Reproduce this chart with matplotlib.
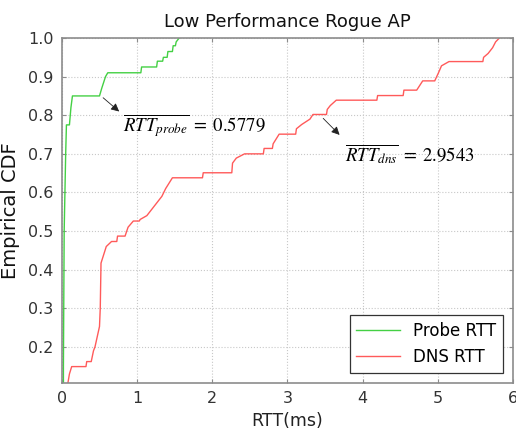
import matplotlib
matplotlib.use('Agg')
import matplotlib.pyplot as plt

# Probe RTT empirical CDF, knots
probe_x = [0.02, 0.02, 0.03, 0.05, 0.06, 0.10, 0.12, 0.14, 0.50, 0.53, 0.58, 0.61,
           1.05, 1.06, 1.26, 1.27, 1.34, 1.35, 1.40, 1.41, 1.47, 1.48, 1.51, 1.52, 1.56]
probe_y = [0.107, 0.15, 0.50, 0.70, 0.775, 0.775, 0.82, 0.85, 0.85, 0.87, 0.90, 0.91,
           0.91, 0.925, 0.925, 0.94, 0.94, 0.95, 0.95, 0.965, 0.965, 0.98, 0.98, 0.99, 1.0]

# DNS RTT empirical CDF
dns_x = [0.08, 0.10, 0.13, 0.32, 0.33, 0.39, 0.42, 0.44, 0.50, 0.51, 0.52, 0.59, 0.66,
         0.73, 0.74, 0.84, 0.88, 0.95, 1.03, 1.04, 1.13, 1.19, 1.25, 1.33, 1.38, 1.47,
         1.87, 1.88, 2.26, 2.27, 2.32, 2.43, 2.68, 2.69, 2.80, 2.81, 2.89, 3.11, 3.12,
         3.19, 3.30, 3.34, 3.52, 3.53, 3.57, 3.65, 4.19, 4.20, 4.54, 4.55, 4.72, 4.80,
         4.96, 5.01, 5.05, 5.15, 5.60, 5.61, 5.67, 5.73, 5.77, 5.82]
dns_y = [0.107, 0.13, 0.149, 0.149, 0.162, 0.162, 0.19, 0.20, 0.253, 0.30, 0.417, 0.46, 0.473,
         0.473, 0.487, 0.487, 0.51, 0.526, 0.526, 0.53, 0.54, 0.555, 0.57, 0.59, 0.61, 0.638,
         0.638, 0.651, 0.651, 0.676, 0.689, 0.70, 0.70, 0.714, 0.714, 0.726, 0.751, 0.751, 0.765,
         0.776, 0.79, 0.802, 0.802, 0.815, 0.825, 0.839, 0.839, 0.851, 0.851, 0.865, 0.865, 0.889,
         0.889, 0.91, 0.928, 0.939, 0.939, 0.95, 0.96, 0.975, 0.99, 1.0]

x_ticks = [0, 1, 2, 3, 4, 5, 6]
y_ticks = [0.2, 0.3, 0.4, 0.5, 0.6, 0.7, 0.8, 0.9, 1.0]

plt.rcParams['font.family'] = ['DejaVu Sans']
plt.rcParams['mathtext.fontset'] = 'stix'

fig = plt.figure(figsize=(5.16, 4.37), dpi=100)
ax = fig.add_axes([0.120, 0.124, 0.874, 0.789])

ax.plot(probe_x, probe_y, color='#44d044', linewidth=1.0, label='Probe RTT')
ax.plot(dns_x, dns_y, color='#ff5a5a', linewidth=1.0, label='DNS RTT')

ax.set_xlim(0, 6)
ax.set_ylim(0.107, 1.0)
ax.set_xticks(x_ticks)
ax.set_yticks(y_ticks)
ax.set_yticklabels([f'{v:.1f}' for v in y_ticks])
ax.grid(True, linestyle=':', color='#c8c8c8', linewidth=0.8)

for s in ax.spines.values():
    s.set_color('#8c8c8c')
    s.set_linewidth(1.2)
ax.tick_params(axis='both', direction='in', top=True, right=True, length=3,
               color='#8c8c8c', labelcolor='#333333', labelsize=11.5, pad=6)

ax.set_title('Low Performance Rogue AP', fontsize=13, color='#111111', pad=8)
ax.set_xlabel('RTT(ms)', fontsize=12.5, color='#222222', labelpad=4)
ax.set_ylabel('Empirical CDF', fontsize=14, color='#111111', labelpad=6)

# подписи средних значений со стрелками
ax.annotate('', xy=(0.79, 0.805), xytext=(0.52, 0.85),
            arrowprops=dict(arrowstyle='-|>', color='#222222', lw=0.6, mutation_scale=12))
ax.text(0.81, 0.772, r'$\overline{RTT_{probe}}\;=\;0.5779$', fontsize=13.5,
        va='center', ha='left')
ax.annotate('', xy=(3.72, 0.744), xytext=(3.45, 0.797),
            arrowprops=dict(arrowstyle='-|>', color='#222222', lw=0.6, mutation_scale=12))
ax.text(3.76, 0.700, r'$\overline{RTT_{dns}}\;=\;2.9543$', fontsize=13.5,
        va='center', ha='left')

leg = ax.legend(loc='lower right', fontsize=12, fancybox=False, framealpha=1,
                edgecolor='#333333', borderaxespad=0.6, handlelength=2.6)
leg.get_frame().set_linewidth(0.9)

fig.savefig('out.png', dpi=100)
